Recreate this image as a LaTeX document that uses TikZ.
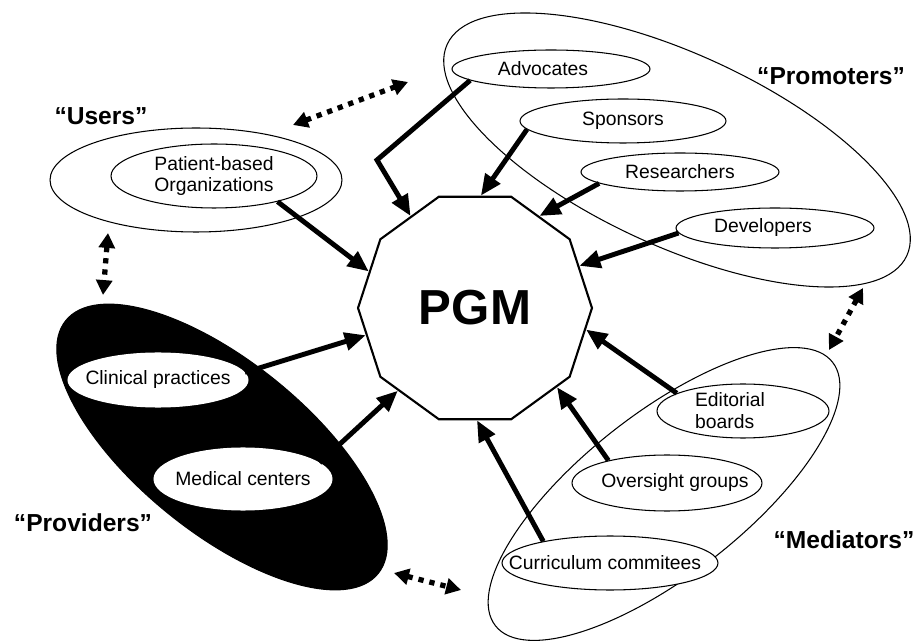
\documentclass[tikz,border=0pt]{standalone}
\usepackage{fontspec}
\setmainfont{Liberation Sans}
\usetikzlibrary{shapes.geometric,arrows.meta}

\begin{document}
\begin{tikzpicture}
[x=0.02cm,y=-0.02cm,%
  groupdecorate/.style={shape=ellipse,draw,line width=0.6pt,inner sep=0pt},%
  memberdecorate/.style={shape=ellipse,draw,fill=white,line width=0.6pt,inner sep=0pt},%
  namedecorate/.style={font=\fontsize{14}{16}\selectfont\bfseries},%
  hubdecorate/.style={shape=regular polygon,regular polygon sides=10,draw,%
    line width=1.2pt,inner sep=0pt,minimum size=4.68cm,%
    font=\fontsize{28}{30}\selectfont\bfseries},%
  feeddecorate/.style={line width=2.8pt,-{Triangle[length=12pt,width=10pt]}},%
  linkdecorate/.style={line width=3pt,dash pattern=on 3pt off 3.4pt,%
    {Triangle[length=8.5pt,width=9pt]}-{Triangle[length=8.5pt,width=9pt]}},%
  every label/.style={font=\fontsize{11}{12.5}\selectfont,align=center}]
\useasboundingbox (0,0) rectangle (919,641);
%% groups
\node (users) at (196,180) [groupdecorate,minimum width=5.84cm,minimum height=2.08cm] {};
\node (promoters) at (677,150) [groupdecorate,minimum width=10.12cm,minimum height=3.84cm,rotate=-24.7] {};
\node (providers) at (222,447) [groupdecorate,fill=black,minimum width=8.04cm,minimum height=3.42cm,rotate=-39] {};
\node (mediators) at (664,494) [groupdecorate,minimum width=8.56cm,minimum height=3.24cm,rotate=38] {};
%% group names
\node (usersname) at (101,116) [namedecorate] {“Users”};
\node (promotersname) at (831,76) [namedecorate] {“Promoters”};
\node (providersname) at (83,523) [namedecorate] {“Providers”};
\node (mediatorsname) at (844,540) [namedecorate] {“Mediators”};
%% members
\node (pbo) at (214,176) [memberdecorate,minimum width=4.12cm,minimum height=1.28cm,%
  label=center:Patient-based\\Organizations] {};
\node (adv) at (551,69) [memberdecorate,minimum width=3.96cm,minimum height=0.76cm,%
  label={[xshift=-0.16cm]center:Advocates}] {};
\node (spo) at (623,121) [memberdecorate,minimum width=4.12cm,minimum height=0.88cm,%
  label=center:Sponsors] {};
\node (res) at (680,172) [memberdecorate,minimum width=3.96cm,minimum height=0.76cm,%
  label=center:Researchers] {};
\node (dev) at (775,228) [memberdecorate,minimum width=3.96cm,minimum height=0.8cm,%
  label={[xshift=-0.24cm]center:Developers}] {};
\node (cli) at (158,380) [memberdecorate,draw=white,minimum width=3.6cm,minimum height=1.08cm,%
  label=center:Clinical practices] {};
\node (med) at (243,479) [memberdecorate,draw=white,minimum width=3.56cm,minimum height=1.24cm,%
  label=center:Medical centers] {};
\node (edi) at (743,411) [memberdecorate,minimum width=3.44cm,minimum height=1.08cm,%
  label={[align=left,xshift=-0.26cm]center:Editorial\\boards}] {};
\node (ove) at (667,483) [memberdecorate,minimum width=3.8cm,minimum height=1.12cm,%
  label={[xshift=0.16cm]center:Oversight groups}] {};
\node (cur) at (610,563) [memberdecorate,minimum width=4.32cm,minimum height=1.08cm,%
  label={[xshift=-0.1cm]center:Curriculum commitees}] {};
%% hub
\node (pgm) at (475,308) [hubdecorate] {PGM};
%% bend and link ends
\coordinate (advbend) at (377,160);
\coordinate (up1) at (293,125);
\coordinate (up2) at (408,82);
\coordinate (uv1) at (108,233);
\coordinate (uv2) at (103,295);
\coordinate (pm1) at (863,288);
\coordinate (pm2) at (829,350);
\coordinate (vm1) at (394,573);
\coordinate (vm2) at (461,590);
%% edges
\draw[feeddecorate] (adv.188) -- (advbend) -- (pgm.125);
\path
(spo.185) edge[feeddecorate] (pgm.87)
(res.188) edge[feeddecorate] (pgm.55)
(dev.183) edge[feeddecorate] (pgm.22)
(pbo.338) edge[feeddecorate] (pgm.161)
(cli.5) edge[feeddecorate] (pgm.194)
(med.12) edge[feeddecorate] (pgm.227)
(cur.162) edge[feeddecorate] (pgm.271)
(ove.159) edge[feeddecorate] (pgm.316)
(edi.165) edge[feeddecorate] (pgm.349);
%% links between groups
\path
(up1) edge[linkdecorate] (up2)
(uv1) edge[linkdecorate] (uv2)
(pm1) edge[linkdecorate] (pm2)
(vm1) edge[linkdecorate] (vm2);
\end{tikzpicture}
\end{document}
